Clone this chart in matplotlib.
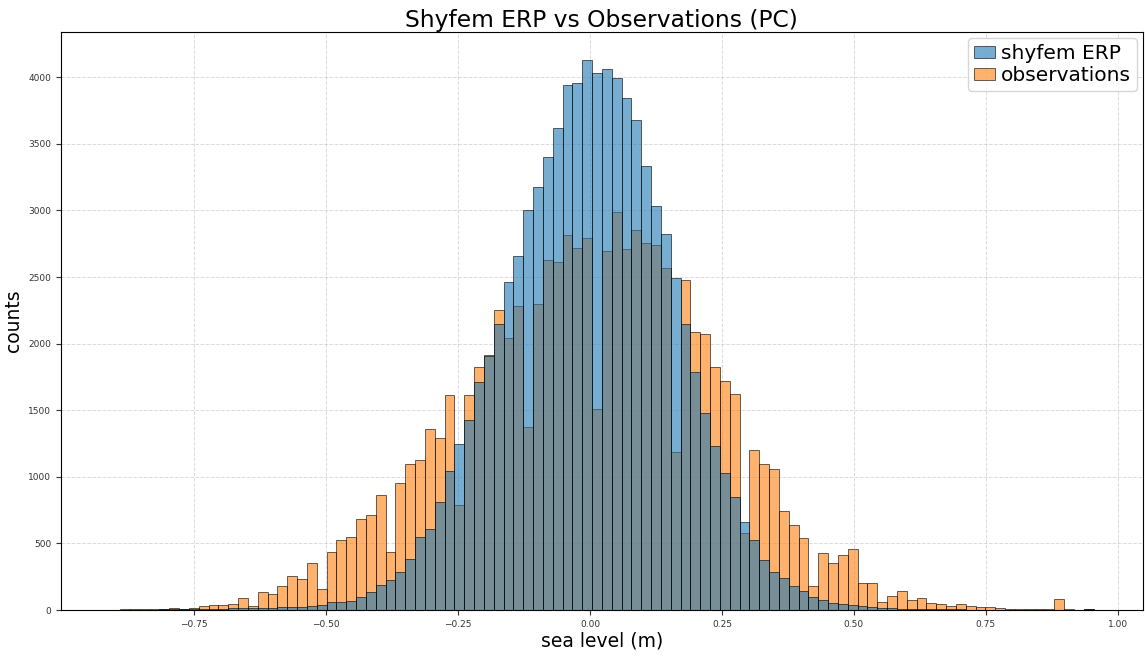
import numpy as np
import matplotlib
matplotlib.use('Agg')
import matplotlib.pyplot as plt

# bin edges of the shared histogram (sea level, m)
bin_lo = -0.909
bin_hi = 0.954
n_bins = 100

# counts per bin
shyfem_counts = [2, 0, 3, 2, 3, 4, 5, 5, 6, 8,
                 8, 10, 12, 12, 14, 16, 18, 20, 22, 25,
                 30, 40, 62, 62, 70, 100, 137, 187, 225, 287,
                 380, 550, 605, 812, 1045, 1250, 1425, 1712, 1905, 2150,
                 2462, 2655, 3000, 3175, 3400, 3620, 3945, 3957, 4132, 4030,
                 4062, 3992, 3842, 3682, 3337, 3030, 2825, 2495, 2145, 1790,
                 1478, 1228, 1030, 850, 662, 525, 375, 287, 237, 180,
                 142, 100, 75, 55, 45, 40, 30, 20, 15, 12,
                 10, 8, 6, 5, 5, 4, 4, 3, 3, 3,
                 2, 2, 2, 2, 1, 1, 1, 1, 0, 5]

obs_counts = [3, 5, 5, 8, 10, 8, 12, 10, 15, 30,
              35, 35, 45, 88, 30, 133, 120, 180, 255, 230,
              350, 155, 432, 525, 545, 680, 712, 867, 437, 955,
              1100, 1130, 1362, 1295, 1617, 787, 1617, 1825, 1915, 2255,
              2045, 2280, 1375, 2300, 2625, 2612, 2812, 2720, 2795, 1512,
              2695, 2987, 2707, 2855, 2755, 2737, 2570, 1187, 2475, 2087,
              2070, 1825, 1720, 1620, 575, 1200, 1095, 1055, 745, 637,
              537, 180, 425, 355, 412, 455, 200, 200, 62, 105,
              142, 78, 93, 50, 42, 30, 42, 32, 22, 25,
              17, 10, 5, 10, 10, 10, 82, 7, 2, 8]

edges = np.linspace(bin_lo, bin_hi, n_bins + 1)

fig = plt.figure(figsize=(11.45, 6.56), dpi=100)
ax = fig.add_axes([0.0533, 0.0701, 0.9447, 0.8809])

# observations first so the model bars sit on top (grey overlap)
_, _, obs_patches = ax.hist(edges[:-1], bins=edges, weights=obs_counts, alpha=0.6,
                            color='tab:orange', edgecolor='black', linewidth=0.7,
                            label='observations')
_, _, shy_patches = ax.hist(edges[:-1], bins=edges, weights=shyfem_counts, alpha=0.6,
                            color='tab:blue', edgecolor='black', linewidth=0.7,
                            label='shyfem ERP')

ax.set_xticks(np.arange(-0.75, 1.01, 0.25))
ax.set_yticks(np.arange(0, 4001, 500))
ax.tick_params(labelsize=6.5, colors='#333333')
ax.grid(True, linestyle='--', linewidth=0.7, alpha=0.45)
ax.set_axisbelow(True)

ax.set_title('Shyfem ERP vs Observations (PC)', fontsize=16.8, pad=4)
ax.set_xlabel('sea level (m)', fontsize=13.5, labelpad=2)
ax.set_ylabel('counts', fontsize=13.5)
ax.legend([shy_patches[0], obs_patches[0]], ['shyfem ERP', 'observations'],
          loc='upper right', fontsize=14.5, handlelength=1.0, handleheight=0.5,
          borderpad=0.3, labelspacing=0.15, handletextpad=0.3, borderaxespad=0.3)

fig.savefig('out.png', dpi=100)
